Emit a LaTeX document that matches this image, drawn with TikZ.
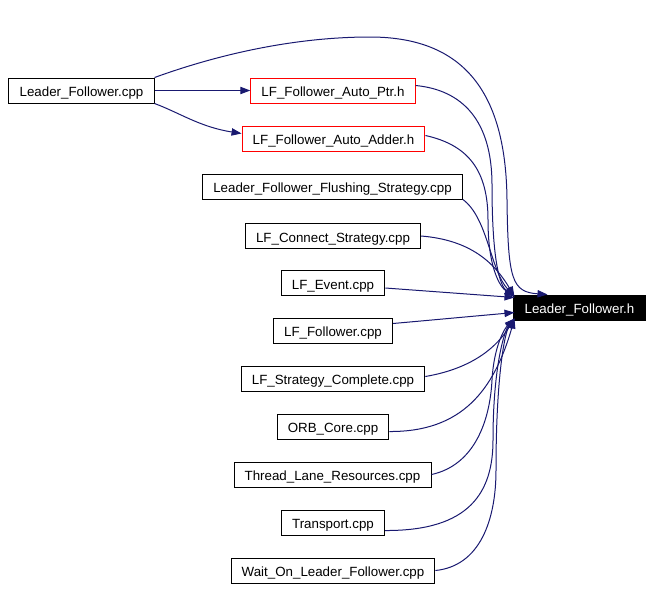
\documentclass[tikz,border=0pt]{standalone}
\usepackage{fontspec}
\setmainfont{Liberation Sans}
\usetikzlibrary{arrows.meta,calc}
\definecolor{edgeblue}{HTML}{191970}
\begin{document}
\begin{tikzpicture}[x=0.75pt,y=-0.75pt,
  box/.style={draw=black,line width=0.75pt,inner xsep=8pt,inner ysep=0pt,minimum height=18.75pt,text height=9.6pt,text depth=0.2pt,font=\fontsize{10pt}{12pt}\selectfont,fill=white},
  redbox/.style={box,draw=red},
  blackbox/.style={box,fill=black,text=white},
  dep/.style={draw=edgeblue,line width=0.75pt,-{Triangle[length=7.5pt,width=5.5pt]}}]
\useasboundingbox (0,0) rectangle (652,590);
\node[box] (lfcpp) at (81.5,90.5) {Leader\_Follower.cpp};
\node[redbox] (ptr) at (333,90.5) {LF\_Follower\_Auto\_Ptr.h};
\node[redbox] (adder) at (333.5,138.5) {LF\_Follower\_Auto\_Adder.h};
\node[box] (flush) at (332.5,186.5) {Leader\_Follower\_Flushing\_Strategy.cpp};
\node[box] (connect) at (333,236) {LF\_Connect\_Strategy.cpp};
\node[box] (event) at (333,283) {LF\_Event.cpp};
\node[box] (follower) at (333,330.5) {LF\_Follower.cpp};
\node[box] (strat) at (333,378.5) {LF\_Strategy\_Complete.cpp};
\node[box] (orb) at (333,426.5) {ORB\_Core.cpp};
\node[box] (thread) at (332.5,474.5) {Thread\_Lane\_Resources.cpp};
\node[box] (transport) at (333,522.5) {Transport.cpp};
\node[box] (wait) at (333,570.5) {Wait\_On\_Leader\_Follower.cpp};
\node[blackbox] (h) at (579.5,307.5) {Leader\_Follower.h};
\coordinate (tipA) at ($(h.north west)+(1,2)$);
\coordinate (tipB) at ($(h.north west)+(1,3)$);
\coordinate (tipC) at ($(h.west)+(1,5)$);
\coordinate (tipD) at ($(h.south west)+(1,-2)$);
\coordinate (tipTop) at ($(h.north west)+(34,0)$);
% edges
\draw[dep] (lfcpp.north east) .. controls (225,52) and (300,37) .. (370,37)
  .. controls (470,37) and (506,100) .. (507,200)
  .. controls (508,280) and (512,292) .. (tipTop);
\draw[dep] (lfcpp.east) -- (ptr.west);
\draw[dep] (lfcpp.south east) .. controls (180,113) and (200,127) .. ($(adder.west)+(0,-5)$);
\draw[dep] ($(ptr.east)+(0,-5)$) .. controls (462,90) and (492,120) .. (492,185)
  .. controls (492,262) and (500,286) .. (tipA);
\draw[dep] ($(adder.east)+(0,-3)$) .. controls (468,145) and (488,170) .. (488,220)
  .. controls (488,268) and (500,287) .. (tipA);
\draw[dep] (flush.south east) .. controls (488,218) and (490,270) .. (tipA);
\draw[dep] (connect.east) .. controls (470,240) and (494,262) .. (tipA);
\draw[dep] ($(event.east)+(0,5)$) -- (tipB);
\draw[dep] ($(follower.east)+(0,-7)$) -- (tipC);
\draw[dep] ($(strat.east)+(0,-2)$) .. controls (475,368) and (498,345) .. (tipD);
\draw[dep] ($(orb.east)+(0,5)$) .. controls (462,432) and (494,390) .. (tipD);
\draw[dep] (thread.east) .. controls (475,465) and (490,420) .. (492,380)
  .. controls (494,345) and (505,328) .. (tipD);
\draw[dep] ($(transport.east)+(0,8)$) .. controls (470,531) and (493,492) .. (493,440)
  .. controls (493,365) and (505,330) .. (tipD);
\draw[dep] (wait.east) .. controls (480,566) and (496,520) .. (496,470)
  .. controls (496,375) and (505,332) .. (tipD);
\end{tikzpicture}
\end{document}
